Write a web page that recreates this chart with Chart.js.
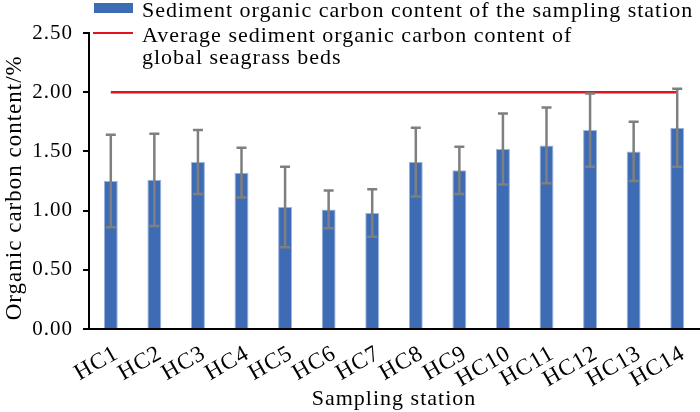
<!DOCTYPE html>
<html>
<head>
<meta charset="utf-8">
<script src="https://cdn.jsdelivr.net/npm/chart.js@4.4.1/dist/chart.umd.min.js"></script>
<style>
  html, body { margin: 0; padding: 0; background: #fff; }
  #wrap { width: 700px; height: 412px; }
</style>
</head>
<body>
<div id="wrap"><canvas id="chart" width="700" height="412"></canvas></div>
<script>
const stations = ["HC1", "HC2", "HC3", "HC4", "HC5", "HC6", "HC7", "HC8", "HC9", "HC10", "HC11", "HC12", "HC13", "HC14"];
const carbonContent = [1.25, 1.26, 1.41, 1.32, 1.03, 1.01, 0.98, 1.41, 1.34, 1.52, 1.55, 1.68, 1.50, 1.70];
const carbonError = [0.39, 0.39, 0.27, 0.21, 0.34, 0.16, 0.20, 0.29, 0.20, 0.30, 0.32, 0.31, 0.25, 0.33];
const globalAverage = stations.map(() => 2.00);
const yTicks = [0, 0.5, 1.0, 1.5, 2.0, 2.5];

const legendItems = [
  { kind: "box", color: "#3E6CB4", lines: ["Sediment organic carbon content of the sampling station"] },
  { kind: "line", color: "#E3131B", lines: ["Average sediment organic carbon content of", "global seagrass beds"] },
];

const serif = "'Liberation Serif', 'Times New Roman', serif";
const ink = "#000";

// canvas state gets reset on resize, so set spacing before layout and draw
const spacing = {
  id: "spacing",
  beforeUpdate(chart) { chart.ctx.letterSpacing = "1px"; },
  beforeDraw(chart) { chart.ctx.letterSpacing = "1px"; },
};

const errorBars = {
  id: "errorBars",
  afterDatasetsDraw(chart) {
    const ctx = chart.ctx;
    const y = chart.scales.y;
    const meta = chart.getDatasetMeta(0);
    ctx.save();
    ctx.strokeStyle = "#7F7F7F";
    ctx.lineWidth = 2.5;
    meta.data.forEach((bar, i) => {
      const top = y.getPixelForValue(carbonContent[i] + carbonError[i]);
      const bot = y.getPixelForValue(carbonContent[i] - carbonError[i]);
      ctx.beginPath();
      ctx.moveTo(bar.x, top);
      ctx.lineTo(bar.x, bot);
      ctx.moveTo(bar.x - 5, top);
      ctx.lineTo(bar.x + 5, top);
      ctx.moveTo(bar.x - 5, bot);
      ctx.lineTo(bar.x + 5, bot);
      ctx.stroke();
    });
    ctx.restore();
  },
};

const topLegend = {
  id: "topLegend",
  afterDraw(chart) {
    const ctx = chart.ctx;
    ctx.save();
    ctx.font = "22px " + serif;
    ctx.textBaseline = "alphabetic";
    let baseline = 17;
    legendItems.forEach(item => {
      if (item.kind === "box") {
        ctx.fillStyle = item.color;
        ctx.fillRect(94, baseline - 14, 39, 10);
      } else {
        ctx.strokeStyle = item.color;
        ctx.lineWidth = 2;
        ctx.beginPath();
        ctx.moveTo(93, baseline - 9);
        ctx.lineTo(133, baseline - 9);
        ctx.stroke();
      }
      ctx.fillStyle = ink;
      item.lines.forEach((txt, j) => {
        ctx.fillText(txt, 142, baseline + j * 22);
      });
      baseline += 25;
    });
    ctx.restore();
  },
};

new Chart(document.getElementById("chart"), {
  data: {
    labels: stations,
    datasets: [
      {
        type: "bar",
        label: legendItems[0].lines[0],
        data: carbonContent,
        backgroundColor: "#3E6CB4",
        borderColor: "#9DB6E0",
        borderWidth: 1,
        categoryPercentage: 1,
        barPercentage: 0.32,
        order: 2,
      },
      {
        type: "line",
        label: legendItems[1].lines.join(" "),
        data: globalAverage,
        borderColor: "#E3131B",
        borderWidth: 2.5,
        pointRadius: 0,
        fill: false,
        order: 1,
      },
    ],
  },
  options: {
    responsive: false,
    animation: false,
    layout: { padding: { top: 33, right: 1, left: 0, bottom: 0 } },
    plugins: {
      legend: { display: false },
      tooltip: { enabled: false },
    },
    scales: {
      x: {
        offset: true,
        grid: { display: false, drawTicks: false },
        border: { display: true, color: ink, width: 2 },
        ticks: {
          color: ink,
          font: { family: serif, size: 23 },
          minRotation: 30,
          maxRotation: 30,
          padding: 11,
          labelOffset: 6,
          autoSkip: false,
        },
        title: {
          display: true,
          text: "Sampling station",
          color: ink,
          font: { family: serif, size: 22 },
          padding: { top: 0, bottom: 0 },
        },
        afterFit(scale) {
          scale.height = 83;
          scale.paddingRight = 0;
        },
      },
      y: {
        min: 0,
        max: 2.5,
        afterBuildTicks(scale) { scale.ticks = yTicks.map(v => ({ value: v })); },
        grid: { drawOnChartArea: false, drawTicks: true, tickLength: 6, color: ink, lineWidth: 2 },
        border: { display: true, color: ink, width: 2 },
        ticks: {
          color: ink,
          font: { family: serif, size: 21 },
          padding: 10,
          callback: v => Number(v).toFixed(2),
        },
        title: {
          display: true,
          text: "Organic carbon content/%  ",
          color: ink,
          font: { family: serif, size: 23 },
          padding: { top: 1, bottom: 0 },
        },
        afterFit(scale) { scale.width = 89; },
      },
    },
  },
  plugins: [spacing, errorBars, topLegend],
});
</script>
</body>
</html>
